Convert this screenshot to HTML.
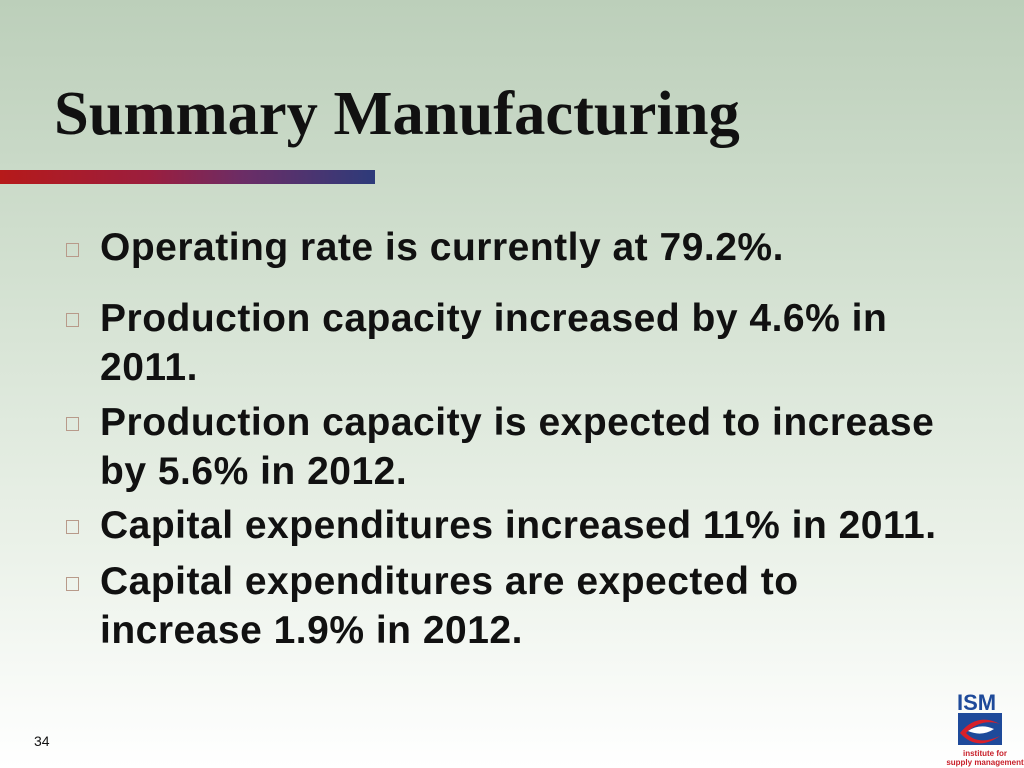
<!DOCTYPE html>
<html><head><meta charset="utf-8"><style>
html,body{margin:0;padding:0}
body{width:1024px;height:768px;position:relative;overflow:hidden;background:linear-gradient(to bottom,#bccfba 0%,#d2e0d0 35%,#eaf1e8 70%,#ffffff 100%);font-family:"Liberation Sans",Arial,sans-serif}
.title{position:absolute;left:54px;top:77px;font-family:"Liberation Serif",serif;font-weight:bold;font-size:62.5px;color:#111;white-space:nowrap}
.bar{position:absolute;left:0;top:170px;width:375px;height:14px;background:linear-gradient(to right,#b61a1a,#9b1e3e 40%,#6b2d66 65%,#2d3b7a)}
.item{position:absolute;left:100px;font-weight:bold;font-size:39px;line-height:49px;color:#111;white-space:nowrap;letter-spacing:0.5px}
.box{position:absolute;left:66px;width:11px;height:12px;border:1px solid #b89a8a}
.pg{position:absolute;left:34px;top:733px;font-size:14px;color:#111}
.logo{position:absolute;left:945px;top:688px;width:79px;height:80px}
</style></head><body>
<div class="title">Summary Manufacturing</div>
<div class="bar"></div>

<div class="box" style="top:243px"></div>
<div class="item" style="top:223px">Operating rate is currently at 79.2%.</div>

<div class="box" style="top:313px"></div>
<div class="item" style="top:294px">Production capacity increased by 4.6% in<br>2011.</div>

<div class="box" style="top:417px"></div>
<div class="item" style="top:398px">Production capacity is expected to increase<br>by 5.6% in 2012.</div>

<div class="box" style="top:520px"></div>
<div class="item" style="top:501px">Capital expenditures increased 11% in 2011.</div>

<div class="box" style="top:577px"></div>
<div class="item" style="top:557px">Capital expenditures are expected to<br>increase 1.9% in 2012.</div>

<div class="pg">34</div>

<svg class="logo" viewBox="0 0 79 80">
<text x="12" y="22" font-family="Liberation Sans,sans-serif" font-weight="bold" font-size="22" fill="#1e4a9a">ISM</text>
<rect x="13" y="25" width="44" height="32" fill="#1e4a9a"/>
<path d="M15 45 Q32 24 55 36 Q36 30 21 45 Q33 58 55 48 Q32 64 15 45Z" fill="#d8202a"/>
<path d="M23 43 Q35 35 49 41 Q37 49 23 43Z" fill="#fff"/>
<text x="40" y="68" text-anchor="middle" font-family="Liberation Sans,sans-serif" font-weight="bold" font-size="8" fill="#c8202a">institute for</text>
<text x="40" y="77" text-anchor="middle" font-family="Liberation Sans,sans-serif" font-weight="bold" font-size="8" fill="#c8202a">supply management</text>
</svg>
</body></html>
